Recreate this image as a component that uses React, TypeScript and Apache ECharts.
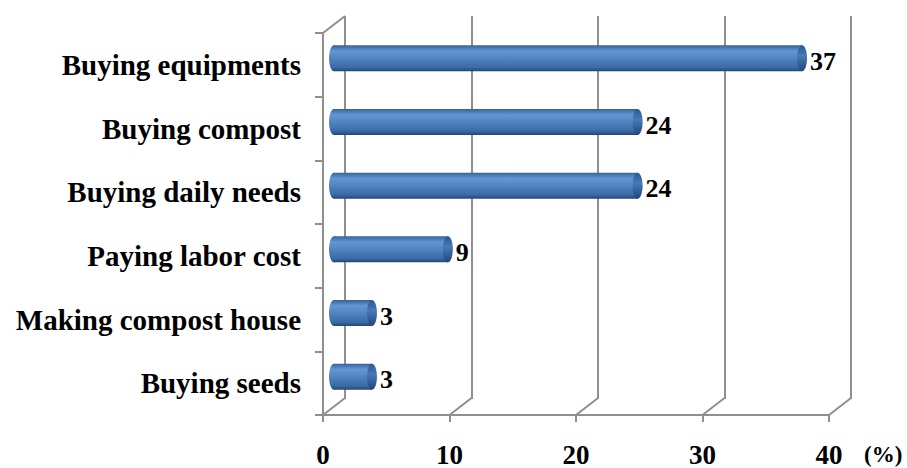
import React, { useEffect, useRef } from "react";
import * as echarts from "echarts";

const categories = [
  "Buying equipments",
  "Buying compost",
  "Buying daily needs",
  "Paying labor cost",
  "Making compost house",
  "Buying seeds",
];
const values = [37, 24, 24, 9, 3, 3];
const xTicks = [0, 10, 20, 30, 40];
const xUnit = "(%)";

const FONT = "Liberation Serif";
const GRID_COLOR = "#8f8f8f";
const DX = 22;
const DY = 17;

export default function App() {
  const ref = useRef<HTMLDivElement>(null);
  useEffect(() => {
    if (!ref.current) return;
    const chart = echarts.init(ref.current, undefined, { renderer: "svg" });
    const barGrad = new echarts.graphic.LinearGradient(0, 0, 0, 1, [
      { offset: 0, color: "#34619a" },
      { offset: 0.22, color: "#6596d2" },
      { offset: 0.5, color: "#5184c3" },
      { offset: 0.85, color: "#3b6aa6" },
      { offset: 1, color: "#214675" },
    ]);
    const capGrad = new echarts.graphic.LinearGradient(0, 0, 0, 1, [
      { offset: 0, color: "#2c578c" },
      { offset: 0.4, color: "#477ab9" },
      { offset: 1, color: "#214675" },
    ]);
    chart.setOption({
      animation: false,
      grid: [
        { left: 323, right: 78, top: 33, bottom: 52 },
        { left: 323 + DX, right: 78 - DX, top: 33 - DY, bottom: 52 + DY },
      ],
      xAxis: [
        {
          type: "value",
          gridIndex: 0,
          min: 0,
          max: 40,
          interval: 10,
          axisLine: { show: true, lineStyle: { color: GRID_COLOR, width: 2 } },
          axisTick: { show: true, length: 7, lineStyle: { color: GRID_COLOR, width: 2 } },
          splitLine: { show: false },
          axisLabel: {
            color: "#000",
            fontFamily: FONT,
            fontWeight: "bold",
            fontSize: 27,
            margin: 26,
          },
          name: xUnit,
          nameLocation: "end",
          nameGap: 35,
          nameTextStyle: {
            color: "#000",
            fontFamily: FONT,
            fontWeight: "bold",
            fontSize: 23,
            verticalAlign: "top",
            padding: [28, 0, 0, 0],
          },
        },
        {
          type: "value",
          gridIndex: 1,
          min: 0,
          max: 40,
          interval: 10,
          axisLine: { show: false },
          axisTick: { show: false },
          axisLabel: { show: false },
          splitLine: { show: true, lineStyle: { color: GRID_COLOR, width: 2 } },
        },
      ],
      yAxis: [
        {
          type: "category",
          gridIndex: 0,
          data: categories,
          inverse: true,
          axisLine: { show: true, lineStyle: { color: GRID_COLOR, width: 2 } },
          axisTick: { show: true, length: 8, lineStyle: { color: GRID_COLOR, width: 2 } },
          axisLabel: {
            color: "#000",
            fontFamily: FONT,
            fontWeight: "bold",
            fontSize: 29,
            margin: 22,
          },
        },
        {
          type: "category",
          gridIndex: 1,
          data: categories,
          inverse: true,
          show: false,
        },
      ],
      series: [
        {
          type: "custom",
          xAxisIndex: 0,
          yAxisIndex: 0,
          clip: false,
          silent: true,
          data: xTicks.map((t) => [t, 0]),
          encode: { x: 0, y: 1 },
          renderItem: (params: any, api: any) => {
            const v = api.value(0);
            const x = api.coord([v, 0])[0];
            const cs = params.coordSys;
            const bottom = cs.y + cs.height;
            const children: any[] = [
              {
                type: "line",
                shape: { x1: x, y1: bottom, x2: x + DX, y2: bottom - DY },
                style: { stroke: GRID_COLOR, lineWidth: 2 },
              },
            ];
            if (params.dataIndex === 0) {
              children.push({
                type: "line",
                shape: { x1: x, y1: cs.y, x2: x + DX, y2: cs.y - DY },
                style: { stroke: GRID_COLOR, lineWidth: 2 },
              });
            }
            return { type: "group", children };
          },
          z: 1,
        },
        {
          type: "custom",
          xAxisIndex: 0,
          yAxisIndex: 0,
          clip: false,
          data: values.map((v, i) => [v, i]),
          encode: { x: 0, y: 1 },
          renderItem: (params: any, api: any) => {
            const v = api.value(0);
            const i = api.value(1);
            const end = api.coord([v, i]);
            const start = api.coord([0, i]);
            const x0 = start[0] + DX / 2;
            const x1 = end[0] + DX / 2;
            const yc = end[1] - DY / 2 + 2;
            const h = 26;
            return {
              type: "group",
              children: [
                {
                  type: "ellipse",
                  shape: { cx: x0, cy: yc, rx: 5, ry: h / 2 },
                  style: { fill: barGrad },
                },
                {
                  type: "rect",
                  shape: { x: x0, y: yc - h / 2, width: x1 - x0, height: h },
                  style: { fill: barGrad },
                },
                {
                  type: "ellipse",
                  shape: { cx: x1, cy: yc, rx: 5, ry: h / 2 },
                  style: { fill: capGrad },
                },
                {
                  type: "text",
                  x: x1 + 8,
                  y: yc + 3,
                  style: {
                    text: String(v),
                    fill: "#000",
                    fontFamily: FONT,
                    fontWeight: "bold",
                    fontSize: 26,
                    align: "left",
                    verticalAlign: "middle",
                  },
                },
              ],
            };
          },
          z: 3,
        },
      ],
    });
    return () => chart.dispose();
  }, []);
  return (
    <div
      ref={ref}
      style={{ position: "fixed", left: 0, top: 0, width: 907, height: 468, background: "#fff" }}
    />
  );
}
